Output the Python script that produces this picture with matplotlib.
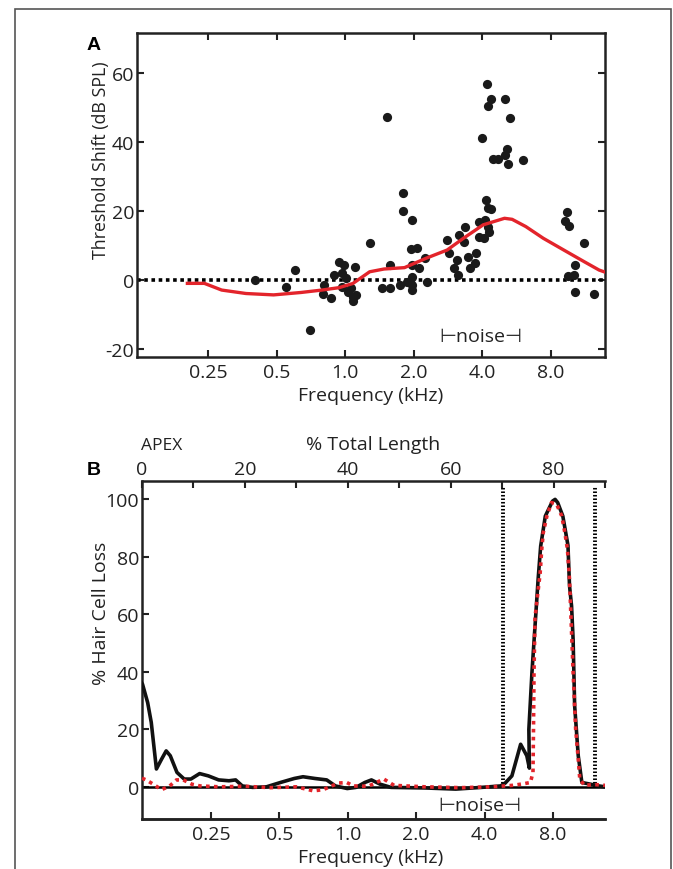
import numpy as np
import matplotlib.pyplot as plt
from matplotlib.patches import Rectangle
from matplotlib.ticker import NullLocator

plt.rcParams['font.family'] = ['Open Sans', 'DejaVu Sans']
plt.rcParams['axes.unicode_minus'] = False

# --- panel A: threshold shift per ear / frequency
shift_freq = [0.40, 0.55, 0.60, 0.70, 0.80, 0.81, 0.87, 0.89, 0.94, 0.99, 0.97, 0.97,
              1.01, 1.03, 1.08, 1.10, 1.12, 1.06, 1.08, 1.29, 1.45, 1.52, 1.57, 1.58,
              1.74, 1.80, 1.80, 1.86, 1.97, 1.94, 2.07, 1.97, 2.10, 1.97, 1.96, 1.97,
              2.25, 2.29, 2.81, 2.84, 2.99, 3.10, 3.12, 3.15, 3.35, 3.32, 3.45, 3.53,
              3.70, 3.76, 3.85, 3.88, 4.00, 4.15, 4.22, 4.38, 4.10, 4.22, 4.29, 4.05,
              4.18, 4.22, 4.38, 4.46, 4.68, 5.00, 5.04, 5.14, 5.20, 5.26, 6.00,
              9.2, 9.36, 9.6, 9.5, 10.1, 10.2, 10.2, 11.2, 12.3]
shift_db = [0.0, -2.1, 2.8, -14.6, -4.1, -1.4, -5.3, 1.4, 5.3, 4.3, 1.9, -1.9,
            0.5, -3.4, -4.8, 3.9, -4.3, -2.4, -6.1, 10.6, -2.2, 47.4, -2.2, 4.3,
            -1.3, 25.1, 20.0, -0.5, 17.4, 9.0, 9.4, 4.3, 3.4, 1.0, -1.4, -2.9,
            6.3, -0.5, 11.6, 7.7, 3.6, 5.8, 1.4, 13.0, 15.5, 11.1, 6.8, 3.4,
            4.8, 7.7, 12.6, 16.9, 41.1, 23.2, 20.8, 20.6, 17.4, 15.5, 14.0, 12.1,
            56.7, 50.5, 52.5, 35.1, 35.1, 52.5, 36.2, 38.0, 33.5, 47.1, 34.8,
            17.1, 19.8, 15.8, 1.3, 1.4, 4.3, -3.4, 10.6, -4.1]

# smoothed fit (red)
fit_freq = [0.203, 0.241, 0.287, 0.367, 0.485, 0.64, 0.79, 0.94, 1.08, 1.28, 1.48,
            1.82, 2.26, 2.8, 3.3, 4.03, 5.0, 5.4, 6.2, 7.4, 9.1, 11.2, 13.0, 13.8]
fit_db = [-0.96, -0.96, -2.9, -3.9, -4.3, -3.6, -2.9, -2.2, -1.0, 2.4, 3.2,
          3.6, 6.3, 8.7, 12.1, 16.0, 17.9, 17.6, 15.5, 12.1, 8.7, 5.3, 2.9, 2.3]

a_ticks = [0.25, 0.5, 1.0, 2.0, 4.0, 8.0]
a_ticklabels = ['0.25', '0.5', '1.0', '2.0', '4.0', '8.0']

# --- panel B: cytocochleogram (% total length from apex)
loss_pct = [0.0, 0.1, 1.1, 1.8, 2.8, 3.8, 4.7, 5.5, 6.8, 8.2, 9.5, 11.2, 12.9, 14.9,
            16.9, 18.2, 19.5, 21.5, 24.2, 26.9, 29.6, 31.3, 33.6, 35.9, 37.6, 39.9,
            41.6, 43.3, 44.6, 46.3, 48.4, 55.0, 61.0, 66.0, 69.7, 70.6, 71.9, 72.8,
            73.6, 74.8, 75.3, 75.2, 75.8, 76.4, 77.0, 77.5, 78.4, 79.8, 80.3, 80.8,
            81.8, 82.8, 83.1, 83.5, 83.8, 84.1, 84.8, 85.5, 87.2, 88.8, 90.0]
loss_ohc = [36.0, 35.7, 29.3, 22.4, 6.2, 9.6, 12.5, 10.8, 5.0, 2.7, 2.7, 4.6, 3.8, 2.4,
            2.1, 2.4, 0.3, -0.2, 0.0, 1.5, 2.9, 3.5, 2.9, 2.4, 0.3, -0.6,
            -0.2, 1.5, 2.4, 0.9, -0.2, -0.4, -0.8, -0.2, 0.3, 1.3, 3.8, 9.6,
            14.8, 10.8, 6.5, 20.0, 39.8, 56.0, 72.2, 83.8, 94.2, 99.4, 100.0, 98.9,
            94.2, 84.0, 70.0, 62.9, 51.3, 28.2, 10.8, 1.5, 0.9, 0.3, 0.0]

ihc_pct = [0.0, 0.8, 2.2, 3.8, 5.4, 6.7, 8.0, 9.7, 11.3, 15.0, 20.0, 25.0, 30.0, 33.3,
           35.2, 38.2, 39.8, 41.1, 44.0, 47.0, 49.0, 55.0, 62.0, 68.0, 72.0, 74.0,
           75.5, 76.0, 76.1, 76.2, 76.4, 77.4, 77.7, 78.0, 78.7, 79.6, 80.6, 81.6,
           82.2, 82.7, 83.1, 83.3, 83.8, 84.3, 84.8, 85.1, 86.0, 88.0, 90.0]
ihc_loss = [3.0, 2.4, 0.9, -1.0, 0.3, 2.4, 2.4, 0.9, 0.3, 0.0, 0.2, -0.3, 0.0, -1.4,
            -1.0, 1.3, 1.5, 0.3, 0.2, 2.7, 0.5, 0.0, -0.3, 0.0, 0.5, 1.0,
            1.5, 5.0, 20.0, 40.0, 59.0, 74.5, 82.6, 88.4, 94.2, 98.9, 98.3, 94.2,
            88.4, 82.6, 72.2, 62.9, 40.0, 20.0, 9.6, 2.7, 0.5, 0.8, 0.5]

noise_edges_pct = [70.1, 88.1]
b_pct_ticks = [0, 20, 40, 60, 80]


def pct_to_khz(p):
    return 2.0 ** ((np.asarray(p, dtype=float) - 40.0) / 13.3)


def khz_to_pct(f):
    f = np.maximum(np.asarray(f, dtype=float), 1e-6)
    return 40.0 + 13.3 * np.log2(f)


W, H = 673, 870
fs = 14
fig = plt.figure(figsize=(W / 100, H / 100), dpi=100)

# outer frame of the figure
fig.add_artist(Rectangle((15 / W, -0.05), (671 - 15) / W, 1 - 10 / H + 0.05,
                         transform=fig.transFigure, fill=False, ec='#555555', lw=1.2))

red = '#e3242b'
ink = '#222222'
tick_kw = dict(direction='in', length=5, width=1.5, labelsize=fs, colors=ink,
               labelcolor=ink)

# ---------------- A
ax_a = fig.add_axes([137 / W, 1 - 358 / H, (605 - 137) / W, (358 - 34) / H])
ax_a.set_xscale('log', base=2)
ax_a.set_xlim(0.122, 13.8)
ax_a.set_ylim(-22.3, 71.6)
ax_a.axhline(0, color='black', lw=2.6, ls=(0, (1, 1)), zorder=2)
ax_a.scatter(shift_freq, shift_db, s=44, color='#1a1a1a', linewidths=0, zorder=3)
ax_a.plot(fit_freq, fit_db, color=red, lw=2.4, zorder=4)
ax_a.set_xticks(a_ticks)
ax_a.set_xticklabels(a_ticklabels)
ax_a.xaxis.set_minor_locator(NullLocator())
ax_a.set_yticks([-20, 0, 20, 40, 60])
ax_a.tick_params(top=True, right=True, pad=2, **tick_kw)
ax_a.tick_params(axis='x', pad=4)
for s in ax_a.spines.values():
    s.set_linewidth(1.8)
    s.set_color(ink)
ax_a.text(3.95, -16.3, '⊢noise⊣', ha='center', va='center', fontsize=fs, color=ink)

fig.text(101 / W, 1 - 160 / H, 'Threshold Shift (dB SPL)', rotation=90,
         ha='center', va='center', fontsize=12.8, color=ink)
fig.text(371 / W, 1 - 396 / H, 'Frequency (kHz)', ha='center', va='center',
         fontsize=fs, color=ink)
fig.text(94 / W, 1 - 45 / H, 'A', ha='center', va='center', fontsize=14,
         weight='bold', family=['Liberation Sans'])

# ---------------- B
ax_b = fig.add_axes([142 / W, 1 - 820 / H, (605 - 142) / W, (820 - 482) / H])
ax_b.set_xlim(0, 90)
ax_b.set_ylim(-11.2, 106.4)
ax_b.spines['right'].set_visible(False)
for s in ax_b.spines.values():
    s.set_linewidth(1.8)
    s.set_color(ink)
ax_b.axhline(0, color='black', lw=1.8, zorder=2)
for p in noise_edges_pct:
    ax_b.plot([p, p], [0, 104.3], color='black', lw=2.8, ls=(0, (0.4, 0.5)), zorder=2)
ax_b.plot(loss_pct, loss_ohc, color='#111111', lw=2.6, zorder=3)
ax_b.plot(ihc_pct, ihc_loss, color=red, lw=2.6, ls=(0, (1, 1.2)), zorder=4)

ax_b.xaxis.tick_top()
ax_b.set_xticks(b_pct_ticks)
ax_b.set_xticks([10, 30, 50, 70, 90], minor=True)
ax_b.set_yticks([0, 20, 40, 60, 80, 100])
ax_b.tick_params(which='both', pad=2, **tick_kw)
ax_b.tick_params(axis='x', which='both', pad=2, top=True, bottom=False)

sec = ax_b.secondary_xaxis('bottom', functions=(pct_to_khz, khz_to_pct))
sec.set_xticks(a_ticks)
sec.set_xticklabels(a_ticklabels)
sec.xaxis.set_minor_locator(NullLocator())
sec.tick_params(pad=4, **tick_kw)
sec.spines['bottom'].set_linewidth(1.8)
sec.spines['bottom'].set_color(ink)

ax_b.text(65.7, -6.3, '⊢noise⊣', ha='center', va='center', fontsize=fs, color=ink)

fig.text(101 / W, 1 - 613 / H, '% Hair Cell Loss', rotation=90,
         ha='center', va='center', fontsize=fs, color=ink)
fig.text(371 / W, 1 - 858 / H, 'Frequency (kHz)', ha='center', va='center',
         fontsize=fs, color=ink)
fig.text(373 / W, 1 - 445 / H, '% Total Length', ha='center', va='center',
         fontsize=fs, color=ink)
fig.text(162 / W, 1 - 446 / H, 'APEX', ha='center', va='center',
         fontsize=12.5, color=ink)
fig.text(94 / W, 1 - 471 / H, 'B', ha='center', va='center', fontsize=14,
         weight='bold', family=['Liberation Sans'])

fig.savefig('out.png', dpi=100)
